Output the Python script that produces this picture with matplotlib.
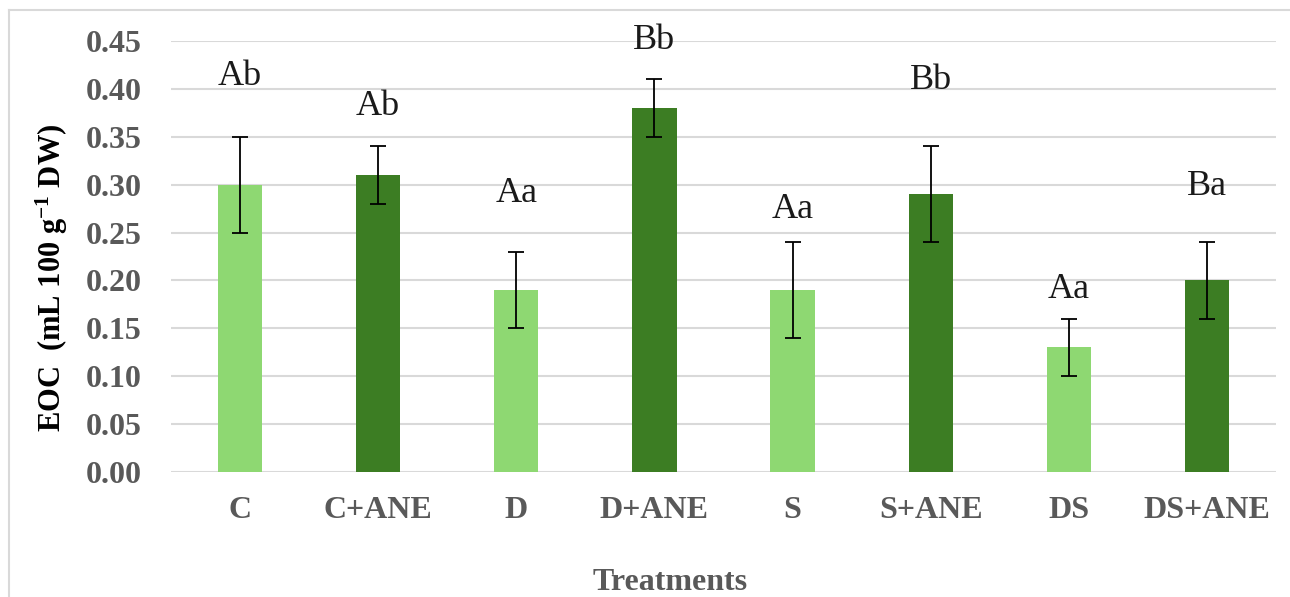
import matplotlib
matplotlib.use("Agg")
import matplotlib.pyplot as plt
from matplotlib.lines import Line2D
import numpy as np

categories = ["C", "C+ANE", "D", "D+ANE", "S", "S+ANE", "DS", "DS+ANE"]
values = [0.30, 0.31, 0.19, 0.38, 0.19, 0.29, 0.13, 0.20]
errors = [0.05, 0.03, 0.04, 0.03, 0.05, 0.05, 0.03, 0.04]
letters = ["Ab", "Ab", "Aa", "Bb", "Aa", "Bb", "Aa", "Ba"]
label_y = [0.413, 0.382, 0.291, 0.451, 0.274, 0.409, 0.191, 0.298]
yticks = [0.00, 0.05, 0.10, 0.15, 0.20, 0.25, 0.30, 0.35, 0.40, 0.45]

light = "#8ED872"
dark = "#3C7D23"
colors = [light if i % 2 == 0 else dark for i in range(len(categories))]

plt.rcParams["mathtext.fontset"] = "custom"
plt.rcParams["mathtext.rm"] = "Liberation Serif:bold"
plt.rcParams["mathtext.it"] = "Liberation Serif:bold"
plt.rcParams["mathtext.bf"] = "Liberation Serif:bold"

serif = ["Liberation Serif", "DejaVu Serif"]
fig = plt.figure(figsize=(12.90, 5.97), dpi=100)
# outer chart frame (left and top edges visible)
fig.lines.append(Line2D([9/1290, 9/1290], [0, 1-10/597], transform=fig.transFigure,
                        color="#D9D9D9", linewidth=1.5))
fig.lines.append(Line2D([9/1290, 1], [1-10/597, 1-10/597], transform=fig.transFigure,
                        color="#D9D9D9", linewidth=1.5))
ax = fig.add_axes([171/1290, 1-472/597, (1276-171)/1290, (472-41)/597])

x = np.arange(len(categories))
ax.bar(x, values, width=0.32, color=colors, zorder=3)
ax.errorbar(x, values, yerr=errors, fmt="none", ecolor="black",
            elinewidth=1.3, capsize=5.5, capthick=1.3, zorder=4)
for xi, ly, t in zip(x, label_y, letters):
    ax.text(xi, ly, t, ha="center", va="center", fontsize=26,
            family=serif, color="#1a1a1a")

ax.set_xlim(-0.5, len(categories) - 0.5)
ax.set_ylim(0, 0.45)
ax.set_yticks(yticks)
ax.set_yticklabels([f"{v:.2f}" for v in yticks])
ax.set_xticks(x)
ax.set_xticklabels(categories)
ax.yaxis.grid(True, color="#D9D9D9", linewidth=1.5, zorder=0)
ax.set_axisbelow(True)
for s in ax.spines.values():
    s.set_visible(False)
ax.tick_params(axis="both", length=0, colors="#595959")
ax.tick_params(axis="y", pad=21)
ax.tick_params(axis="x", pad=17)
for lab in ax.get_yticklabels() + ax.get_xticklabels():
    lab.set_family(serif)
    lab.set_fontweight("bold")
    lab.set_fontsize(23)
    lab.set_color("#595959")

fig.text(52/1290, 1-278/597, "EOC  (mL 100 g$^{-1}$ DW)", rotation=90,
         ha="center", va="center", fontsize=22, fontweight="bold",
         family=serif, color="black")
fig.text(670/1290, 1-582/597, "Treatments", ha="center", va="center",
         fontsize=23, fontweight="bold", family=serif, color="#595959")

fig.savefig("out.png", dpi=100)
